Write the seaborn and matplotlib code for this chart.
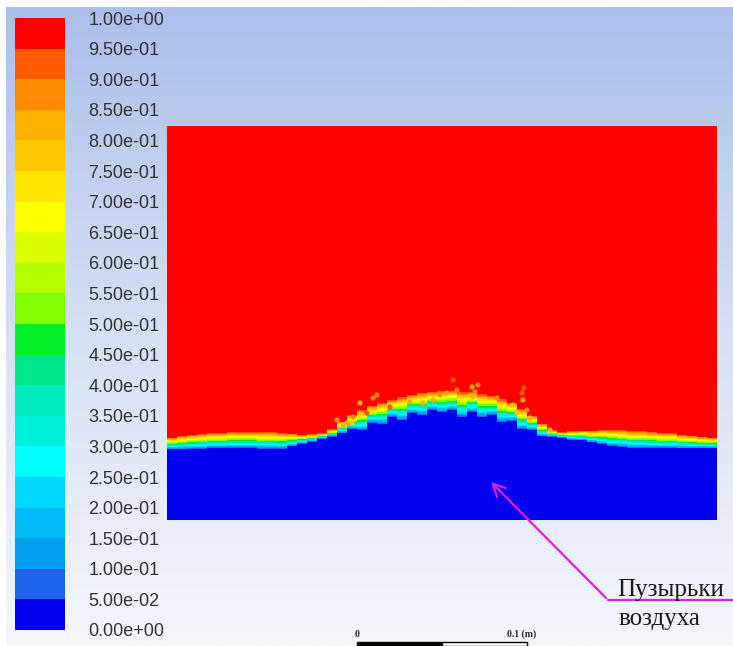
import numpy as np
import matplotlib
matplotlib.use("Agg")
import matplotlib.pyplot as plt
import seaborn as sns
from matplotlib.colors import ListedColormap, LinearSegmentedColormap
from matplotlib.lines import Line2D

# contour levels of the volume fraction
levels = np.linspace(0, 1, 21)

# free surface: one value per column (10 px wide),
# depth measured from the top of the domain in px (domain is 550 x 394 px)
surf_top = np.array([311, 309, 308, 307, 306, 306, 305, 305, 305, 305, 305,
                     306, 307, 308, 308, 307, 303, 295, 288, 283, 279, 276,
                     273, 270, 268, 266, 265, 264, 264, 265, 265, 267, 269,
                     272, 276, 282, 289, 297, 304, 306, 305, 304, 304, 303,
                     303, 303, 304, 304, 305, 306, 306, 308, 309, 310, 311])
surf_bot = np.array([324, 324, 324, 324, 323, 323, 323, 323, 323, 324, 324,
                     324, 321, 318, 316, 313, 311, 308, 304, 305, 298, 299,
                     292, 295, 288, 290, 285, 287, 285, 292, 287, 292, 290,
                     297, 296, 304, 305, 311, 311, 312, 314, 315, 317, 319,
                     321, 322, 323, 323, 323, 323, 323, 323, 323, 323, 323])

# spray droplets above the crest (x from left, depth from top, px) and their fraction
drop_x = np.array([193, 206, 210, 223, 243, 273, 280, 286, 290, 305, 308, 311, 306, 330, 346,
                   355, 356, 360, 350, 186, 180, 200, 256, 266, 170, 176, 185, 357, 363, 383])
drop_y = np.array([277, 272, 269, 281, 276, 269, 267, 254, 264, 261, 266, 259, 271, 272, 279,
                   267, 274, 284, 287, 291, 297, 287, 277, 274, 294, 299, 297, 262, 292, 304])
drop_v = np.array([0.82, 0.88, 0.86, 0.9, 0.8, 0.87, 0.84, 0.9, 0.86, 0.82, 0.88, 0.85, 0.8, 0.88, 0.78,
                   0.9, 0.84, 0.86, 0.76, 0.86, 0.8, 0.9, 0.84, 0.8, 0.88, 0.82, 0.78, 0.9, 0.84, 0.8])

n_rows = 394
n_cols = len(surf_top)
col_w = 10

# Fluent style banded palette (bottom band first)
band_colors = ["#0000f0", "#1e64eb", "#00a0f0", "#00b9f5", "#00d7ff",
               "#00ffff", "#00f0dc", "#00ebbe", "#00e68c", "#00f028",
               "#82ff00", "#b4ff00", "#dcff00", "#ffff00", "#ffe600",
               "#ffc800", "#ffaf00", "#ff8c00", "#ff5a00", "#ff0000"]
cmap = ListedColormap(band_colors)

depth = np.arange(n_rows) + 0.5
field = np.clip((surf_bot[None, :] - depth[:, None]) / (surf_bot - surf_top)[None, :], 0, 1)

sns.set_theme(style="white")
plt.rcParams["font.family"] = ["Liberation Sans", "DejaVu Sans"]

W, H = 733, 646
fig = plt.figure(figsize=(W / 100, H / 100), dpi=100, facecolor="white")

# background gradient
bg = fig.add_axes([6 / W, 0, 1 - 6 / W, 1 - 7 / H], zorder=-5)
bg_cmap = LinearSegmentedColormap.from_list("bg", ["#aabfea", "#d6e0f4", "#f4f6fb"])
bg.imshow(np.linspace(0, 1, 256)[:, None], aspect="auto", cmap=bg_cmap, extent=(0, 1, 0, 1))
bg.axis("off")

ax = fig.add_axes([167 / W, 126 / H, 550 / W, 394 / H])
cax = fig.add_axes([15 / W, 16 / H, 50 / W, 612 / H])

sns.heatmap(field, ax=ax, cmap=cmap, vmin=0, vmax=1, cbar_ax=cax,
            cbar_kws={"ticks": levels, "format": "%.2e"},
            xticklabels=False, yticklabels=False, linewidths=0, rasterized=True)

sns.scatterplot(x=drop_x / col_w, y=drop_y, hue=drop_v, palette=cmap, hue_norm=(0, 1),
                s=14, linewidth=0, legend=False, ax=ax)
ax.set_xlim(0, n_cols)
ax.set_ylim(n_rows, 0)
ax.set_xlabel("")
ax.set_ylabel("")
for sp in ax.spines.values():
    sp.set_visible(False)

cbar = ax.collections[0].colorbar
cbar.outline.set_visible(False)
cax.yaxis.set_ticks_position("right")
cax.tick_params(length=0, pad=17, labelsize=13, labelcolor="#333333")

# scale bar
sax = fig.add_axes([357 / W, 0, 170 / W, 4 / H])
sax.bar([0.025, 0.075], [1, 1], width=0.05, color=["black", "white"],
        edgecolor="black", linewidth=1, clip_on=False)
sax.set_xlim(0, 0.1)
sax.set_ylim(0, 1)
sax.axis("off")
fig.text(355 / W, 9 / H, "0", fontsize=7, weight="bold", family="Liberation Serif")
fig.text(507 / W, 9 / H, "0.1 (m)", fontsize=7, weight="bold", family="Liberation Serif")

# annotation
mag = "#e020e0"
ax.annotate("", xy=(489, 166), xycoords="figure pixels",
            xytext=(608, 46), textcoords="figure pixels",
            arrowprops=dict(arrowstyle="->", color=mag, lw=1.6, mutation_scale=22),
            annotation_clip=False)
fig.add_artist(Line2D([608 / W, 1], [46 / H, 46 / H], color=mag, lw=1.6))
fig.text(617 / W, 50 / H, "Пузырьки", fontsize=18, family="Liberation Serif",
         color="#1a1a1a", va="baseline")
fig.text(619 / W, 21 / H, "воздуха", fontsize=18, family="Liberation Serif",
         color="#1a1a1a", va="baseline")

fig.savefig("out.png", dpi=100)
